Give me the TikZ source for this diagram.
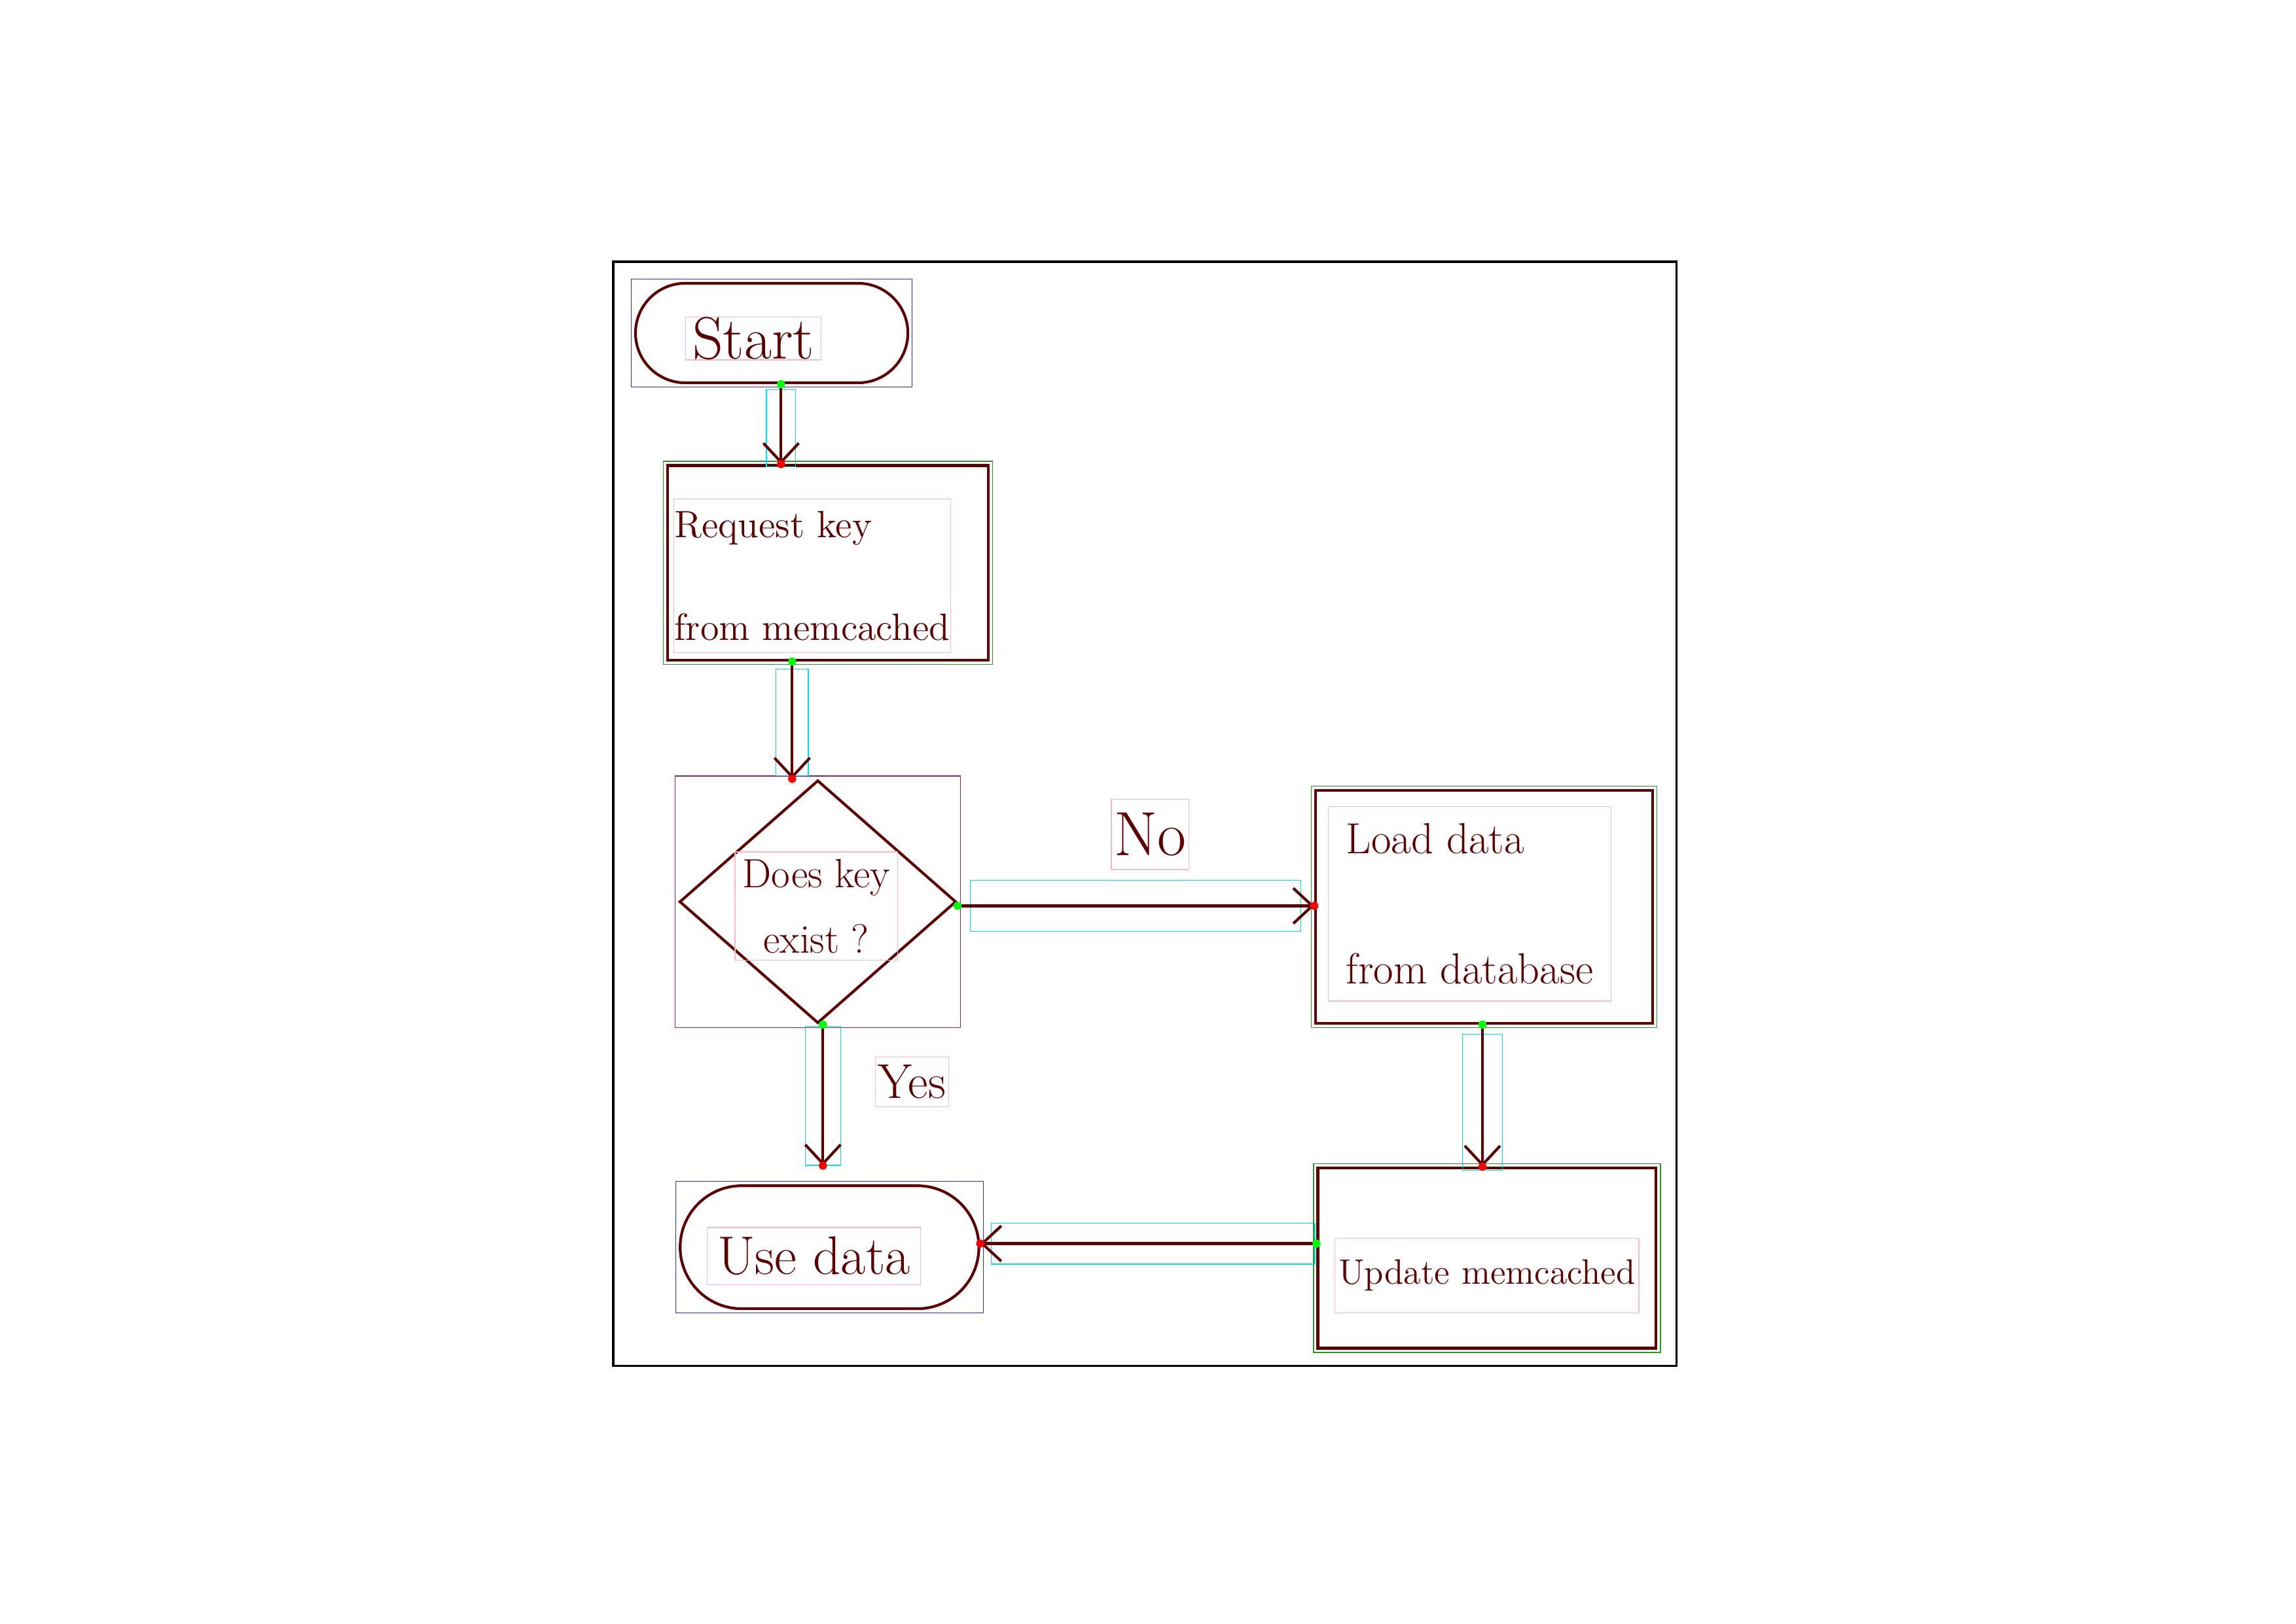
\documentclass[tikz,border=0pt]{standalone}
\usepackage{fontspec}
\usetikzlibrary{shapes.geometric, shapes.misc, arrows.meta, fit}

\newcommand{\pxu}{0.018941cm}
\definecolor{ink}{RGB}{95,0,0}
\definecolor{annoblue}{RGB}{40,40,255}
\definecolor{annogreen}{RGB}{40,150,40}
\definecolor{annopurple}{RGB}{140,30,140}
\definecolor{annocyan}{RGB}{0,225,225}
\definecolor{annopink}{RGB}{255,185,195}

\tikzset{
  terminal/.style={rounded rectangle, draw=ink, line width=1pt, inner sep=0pt},
  process/.style={rectangle, draw=ink, line width=1pt, inner sep=0pt},
  decision/.style={diamond, draw=ink, line width=1pt, inner sep=0pt},
  txt/.style={draw=annopink, line width=0.3pt, inner sep=0pt, text=ink},
  zone/.style={draw=annocyan, line width=0.3pt, inner sep=0pt},
  flow/.style={draw=ink, line width=1pt, -{Straight Barb[length=7pt,width=13pt]}},
  gdot/.style={circle, fill=green, inner sep=0pt, minimum size=3pt},
  rdot/.style={circle, fill=red, inner sep=0pt, minimum size=3pt},
}

\begin{document}
\begin{tikzpicture}[x=0.018941cm, y=-0.018941cm]
\useasboundingbox (0,0) rectangle (1568,1109);
\draw[line width=0.8pt] (418.8,178.8) rectangle (1144.8,933);

% shapes
\node[terminal, minimum width=186*\pxu, minimum height=68*\pxu] (start) at (527,227.5) {};
\node[process, minimum width=219*\pxu, minimum height=133*\pxu] (request) at (565.5,384.5) {};
\node[decision, minimum width=189*\pxu, minimum height=166*\pxu] (decision) at (558.5,616) {};
\node[process, minimum width=230*\pxu, minimum height=159*\pxu] (load) at (1013.5,619.5) {};
\node[terminal, minimum width=204*\pxu, minimum height=84*\pxu] (usedata) at (566.5,852) {};
\node[process, minimum width=231*\pxu, minimum height=123*\pxu] (update) at (1015.5,859.5) {};

% outer boxes
\foreach \n/\c in {start/annoblue, usedata/annoblue, request/annogreen, load/annogreen, update/annogreen, decision/annopurple}
  \node[draw=\c, line width=0.3pt, inner sep=2*\pxu, fit=(\n.north)(\n.south)(\n.east)(\n.west)] (\n-box) {};

% texts
\node[txt, minimum width=92.5*\pxu, minimum height=29.3*\pxu, font=\fontsize{22}{26}\selectfont] (tstart) at (514.5,231.2) {Start};
\node[txt, minimum width=189*\pxu, minimum height=105*\pxu, align=left, font=\fontsize{14}{38}\selectfont] (trequest) at (554.6,393.4) {Request key\\from memcached};
\node[txt, minimum width=111*\pxu, minimum height=74*\pxu, align=center, font=\fontsize{15}{24}\selectfont] (tdecision) at (557.5,619) {Does key\\exist ?};
\node[txt, minimum width=53*\pxu, minimum height=48*\pxu, font=\fontsize{23}{26}\selectfont] (tno) at (785.5,570) {No};
\node[txt, minimum width=193*\pxu, minimum height=133*\pxu, align=left, font=\fontsize{16}{48}\selectfont] (tload) at (1003.7,617.4) {Load data\\from database};
\node[txt, minimum width=50*\pxu, minimum height=34*\pxu, font=\fontsize{18}{22}\selectfont] (tyes) at (622.8,739) {Yes};
\node[txt, minimum width=146*\pxu, minimum height=39*\pxu, font=\fontsize{20}{24}\selectfont] (tusedata) at (555.8,858) {Use data};
\node[txt, minimum width=207.5*\pxu, minimum height=51*\pxu, font=\fontsize{13}{16}\selectfont] (tupdate) at (1015.5,871.3) {Update memcached};

% arrow zones
\node[zone, minimum width=20*\pxu, minimum height=53*\pxu] (c1) at (533.4,292.5) {};
\node[zone, minimum width=22*\pxu, minimum height=73*\pxu] (c2) at (541,493.5) {};
\node[zone, minimum width=226*\pxu, minimum height=35*\pxu] (c3) at (775.5,618.8) {};
\node[zone, minimum width=24*\pxu, minimum height=95*\pxu] (c4) at (562,748.5) {};
\node[zone, minimum width=27*\pxu, minimum height=93*\pxu] (c5) at (1012.4,753) {};
\node[zone, minimum width=221*\pxu, minimum height=28*\pxu] (c6) at (787.5,849.5) {};

% connectors
\draw[flow] (start.south -| c1) node[gdot]{} -- (request.north -| c1) node[rdot]{};
\draw[flow] (request.south -| c2) node[gdot]{} -- (decision.north -| c2) node[rdot]{};
\draw[flow] (decision.east |- c3) node[gdot]{} -- (load.west |- c3) node[rdot]{};
\draw[flow] (decision.south -| c4) node[gdot]{} -- (c4.south) node[rdot]{};
\draw[flow] (load.south -| c5) node[gdot]{} -- (update.north -| c5) node[rdot]{};
\draw[flow] (update.west |- c6) node[gdot]{} -- (usedata.east |- c6) node[rdot]{};
\end{tikzpicture}
\end{document}
